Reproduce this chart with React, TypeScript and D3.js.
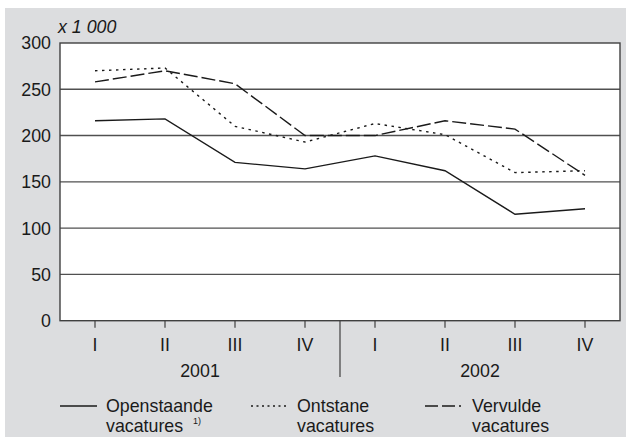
import React from "react";
import * as d3 from "d3";

const quarters = ["I", "II", "III", "IV", "I", "II", "III", "IV"];
const years = ["2001", "2002"];
const yTicks = [0, 50, 100, 150, 200, 250, 300];
const openstaande = [216, 218, 171, 164, 178, 162, 115, 121];
const ontstane = [270, 273, 210, 193, 213, 201, 160, 162];
const vervulde = [258, 270, 256, 200, 200, 216, 207, 157];

const W = 627;
const H = 439;
const left = 60;
const right = 620;
const top = 43;
const bottom = 320.7;
const font = "'Liberation Sans', Arial, sans-serif";
const ink = "#1a1a1a";
const fs = 17.8;

export default function App() {
  const idx = d3.range(quarters.length);
  const x = d3.scaleBand<number>().domain(idx).range([left, right]);
  const cx = (i: number) => (x(i) as number) + x.bandwidth() / 2;
  const y = d3.scaleLinear().domain([0, 300]).range([bottom, top]);
  const line = d3
    .line<number>()
    .x((_, i) => cx(i))
    .y((v) => y(v));

  const series = [
    { data: openstaande, dash: undefined as string | undefined },
    { data: ontstane, dash: "2.5,4.5" },
    { data: vervulde, dash: "14,4" },
  ];

  const yearMid = (k: number) => (left + (right - left) * (k * 0.5 + 0.25));
  const divX = (x(4) as number);

  const legend = [
    { x1: 60, x2: 97, tx: 106, l1: "Openstaande", l2: "vacatures", sup: true, dash: undefined as string | undefined },
    { x1: 251, x2: 287, tx: 297, l1: "Ontstane", l2: "vacatures", sup: false, dash: "2,3.5" },
    { x1: 425, x2: 463, tx: 472, l1: "Vervulde", l2: "vacatures", sup: false, dash: "13,4,13,4,2,10" },
  ];

  return (
    <svg width={W} height={H} style={{ position: "absolute", left: 0, top: 0 }} fontFamily={font}>
      <rect x={5} y={8} width={621} height={429} fill="#dcdddf" />
      <rect x={left} y={top} width={right - left} height={bottom - top} fill="#ffffff" />
      {yTicks.map((t) => (
        <g key={t}>
          {t > 0 && t < 300 && (
            <line x1={left} x2={right} y1={y(t)} y2={y(t)} stroke="#505050" strokeWidth={1.4} />
          )}
          <text x={51} y={y(t)} dy="0.36em" textAnchor="end" fontSize={fs} fill={ink}>
            {t}
          </text>
        </g>
      ))}
      <rect x={left} y={top} width={right - left} height={bottom - top} fill="none" stroke="#404040" strokeWidth={1.4} />
      <text x={58} y={33} fontSize={fs} fontStyle="italic" fill={ink}>
        x 1 000
      </text>
      {idx.map((i) => (
        <g key={i}>
          <line x1={cx(i)} x2={cx(i)} y1={bottom} y2={bottom + 7} stroke="#404040" strokeWidth={1.2} />
          <text x={cx(i)} y={345} dy="0.36em" textAnchor="middle" fontSize={fs} fill={ink}>
            {quarters[i]}
          </text>
        </g>
      ))}
      <line x1={divX} x2={divX} y1={bottom} y2={377} stroke="#404040" strokeWidth={1.2} />
      {years.map((yr, k) => (
        <text key={yr} x={yearMid(k)} y={371} dy="0.36em" textAnchor="middle" fontSize={fs} fill={ink}>
          {yr}
        </text>
      ))}
      {series.map((s, k) => (
        <path
          key={k}
          d={line(s.data) as string}
          fill="none"
          stroke={ink}
          strokeWidth={1.4}
          strokeDasharray={s.dash}
        />
      ))}
      {legend.map((l, k) => (
        <g key={k}>
          <line x1={l.x1} x2={l.x2} y1={406} y2={406} stroke={ink} strokeWidth={1.4} strokeDasharray={l.dash} />
          <text x={l.tx} y={406} dy="0.36em" fontSize={fs} fill={ink}>
            {l.l1}
          </text>
          <text x={l.tx} y={426} dy="0.36em" fontSize={fs} fill={ink}>
            {l.l2}
          </text>
          {l.sup && (
            <text x={193} y={424} fontSize={9} fill={ink}>
              1)
            </text>
          )}
        </g>
      ))}
    </svg>
  );
}
